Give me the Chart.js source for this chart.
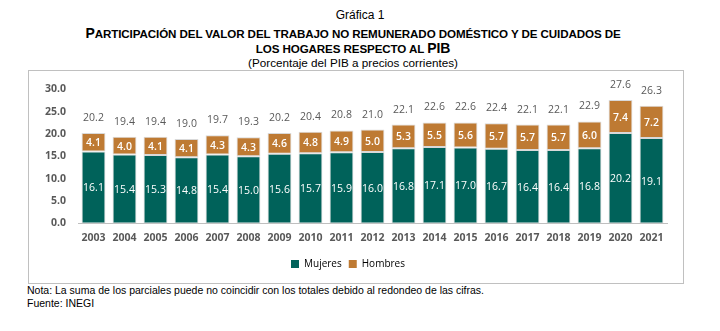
<!DOCTYPE html>
<html>
<head>
<meta charset="utf-8">
<script src="https://cdn.jsdelivr.net/npm/chart.js@4.4.1/dist/chart.umd.min.js"></script>
<style>
  body { margin: 0; background: #fff; width: 720px; height: 331px; position: relative; font-family: "Liberation Sans", Arial, sans-serif; }
  .t { position: absolute; left: 0; width: 706px; text-align: center; color: #000; white-space: nowrap; }
  #g1 { top: 8px; width: 720px; font-size: 12px; }
  .head { font-weight: bold; font-size: 11.6px; letter-spacing: -0.1px; }
  .head b { font-size: 14px; }
  #h1 { top: 25px; }
  #h2 { top: 40px; }
  #sub { top: 56px; font-size: 11.7px; }
  #box { position: absolute; left: 28px; top: 70px; width: 654px; height: 212px; border: 1px solid #c0c0c0; }
  .note { position: absolute; left: 27px; font-size: 10.5px; color: #000; }
</style>
</head>
<body>
<div class="t" id="g1">Gráfica 1</div>
<div class="t head" id="h1"><b>P</b>ARTICIPACIÓN DEL VALOR DEL TRABAJO NO REMUNERADO DOMÉSTICO Y DE CUIDADOS DE</div>
<div class="t head" id="h2">LOS HOGARES RESPECTO AL <b>PIB</b></div>
<div class="t" id="sub">(Porcentaje del PIB a precios corrientes)</div>
<div id="box"><canvas id="chart" width="654" height="212"></canvas></div>
<div class="note" style="top:284px">Nota: La suma de los parciales puede no coincidir con los totales debido al redondeo de las cifras.</div>
<div class="note" style="top:297px">Fuente: INEGI</div>
<script>
// Valores
const years = ['2003', '2004', '2005', '2006', '2007', '2008', '2009', '2010', '2011', '2012',
  '2013', '2014', '2015', '2016', '2017', '2018', '2019', '2020', '2021'];
const mujeres = [16.1, 15.4, 15.3, 14.8, 15.4, 15.0, 15.6, 15.7, 15.9, 16.0,
  16.8, 17.1, 17.0, 16.7, 16.4, 16.4, 16.8, 20.2, 19.1];
const hombres = [4.1, 4.0, 4.1, 4.1, 4.3, 4.3, 4.6, 4.8, 4.9, 5.0,
  5.3, 5.5, 5.6, 5.7, 5.7, 5.7, 6.0, 7.4, 7.2];
const totales = [20.2, 19.4, 19.4, 19.0, 19.7, 19.3, 20.2, 20.4, 20.8, 21.0,
  22.1, 22.6, 22.6, 22.4, 22.1, 22.1, 22.9, 27.6, 26.3];

const labelFont = '"Open Sans", "DejaVu Sans", sans-serif';

// Etiquetas dentro de los segmentos y totales arriba
const valueLabels = {
  id: 'valueLabels',
  afterDatasetsDraw(chart) {
    const ctx = chart.ctx;
    ctx.save();
    ctx.textAlign = 'center';
    ctx.textBaseline = 'middle';
    chart.data.datasets.forEach((ds, i) => {
      const meta = chart.getDatasetMeta(i);
      meta.data.forEach((bar, j) => {
        const mid = (bar.y + bar.base) / 2;
        ctx.fillStyle = '#ffffff';
        ctx.font = (i === 1 ? '600 ' : '') + '10.5px ' + labelFont;
        ctx.fillText(ds.data[j].toFixed(1), bar.x, mid + 1);
      });
    });
    const top = chart.getDatasetMeta(1);
    ctx.fillStyle = '#595959';
    ctx.font = '10.5px ' + labelFont;
    top.data.forEach((bar, j) => {
      ctx.fillText(totales[j].toFixed(1), bar.x, bar.y - 15);
    });
    ctx.restore();
  }
};

new Chart(document.getElementById('chart'), {
  type: 'bar',
  data: {
    labels: years,
    datasets: [
      {
        label: 'Mujeres',
        data: mujeres,
        backgroundColor: '#00625A',
        borderColor: '#d9d9d9',
        borderWidth: 1,
        borderSkipped: false
      },
      {
        label: 'Hombres',
        data: hombres,
        backgroundColor: '#BE7A33',
        borderColor: '#d9d9d9',
        borderWidth: 1,
        borderSkipped: false
      }
    ]
  },
  options: {
    responsive: false,
    animation: false,
    categoryPercentage: 1,
    barPercentage: 0.77,
    layout: { padding: { top: 10, right: 16, bottom: 4, left: 0 } },
    plugins: {
      legend: {
        position: 'bottom',
        labels: {
          boxWidth: 8,
          boxHeight: 8,
          padding: 7,
          color: '#404040',
          font: { family: labelFont, size: 10 },
          generateLabels(chart) {
            return chart.data.datasets.map((ds, i) => ({
              text: ds.label,
              fillStyle: ds.backgroundColor,
              strokeStyle: ds.backgroundColor,
              lineWidth: 0,
              datasetIndex: i
            }));
          }
        }
      },
      tooltip: { enabled: false }
    },
    scales: {
      x: {
        stacked: true,
        grid: { display: false, drawTicks: false },
        border: { color: '#bfbfbf' },
        ticks: {
          padding: 8,
          color: '#595959',
          font: { family: labelFont, size: 10.5, weight: 'bold' }
        }
      },
      y: {
        stacked: true,
        min: 0,
        max: 30,
        afterFit(scale) { scale.width = 49; },
        grid: { display: false, drawTicks: false },
        border: { display: false },
        ticks: {
          stepSize: 5,
          padding: 12,
          color: '#595959',
          font: { family: labelFont, size: 10.5, weight: 'bold' },
          callback: v => v.toFixed(1)
        }
      }
    }
  },
  plugins: [valueLabels]
});
</script>
</body>
</html>
